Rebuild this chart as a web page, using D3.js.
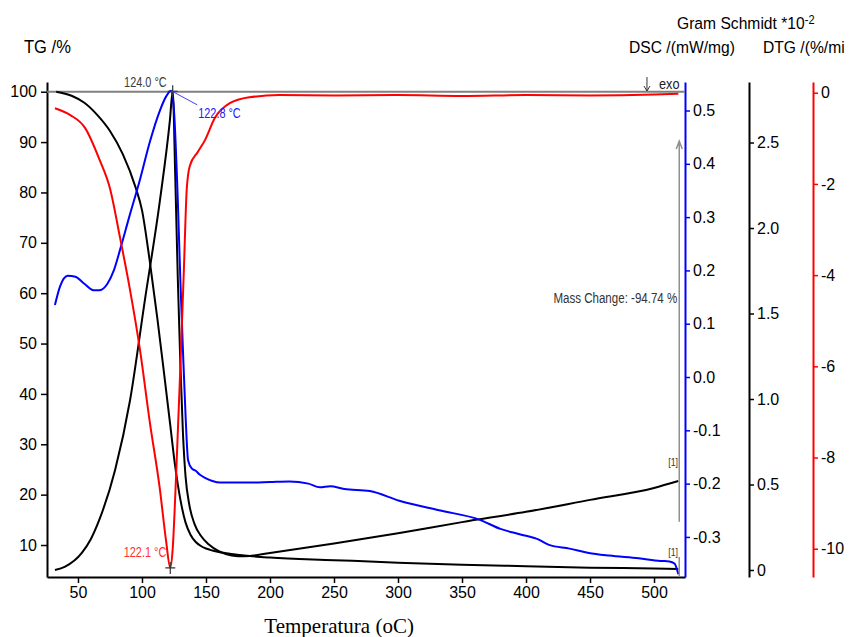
<!DOCTYPE html>
<html><head><meta charset="utf-8">
<script src="https://cdn.jsdelivr.net/npm/d3@7"></script>
<style>
body{margin:0;background:#fff}
svg{display:block}
text{font-family:"Liberation Sans",Arial,sans-serif}
</style>
</head><body>
<svg id="c" width="852" height="637"></svg>
<script>
// ---------------- data ----------------
const tgTemp = [33,45,55,65,75,85,95,100,106,112,118,122,126,130,134,138,142,146,150,155,160,170,180,200,250,300,350,400,450,500,519];
const tgVal  = [100,99.2,97.8,95.4,92.2,87.6,81,76.5,66.5,55,42.5,34,25.5,19,14.5,12,10.6,9.8,9.3,8.9,8.6,8.2,7.9,7.5,7.0,6.5,6.1,5.8,5.5,5.35,5.26];

const dtgTemp = [32,44,55.5,67,75,83,90.5,98.5,106,114,118.7,122.1,124,126.5,129.6,132.7,135,137.4,143.6,149,157,168.6,184,207,250,300,350,400,450,500,519];
const dtgVal  = [-0.34,-0.49,-0.77,-1.48,-2.1,-3.2,-4.3,-5.65,-7.2,-8.7,-9.8,-10.42,-10.0,-8.5,-6.3,-3.9,-2.1,-1.6,-1.3,-1.05,-0.55,-0.23,-0.1,-0.05,-0.06,-0.05,-0.07,-0.05,-0.06,-0.04,-0.02];

const dscTemp = [32,36,42,48,55,62,67,73,78,83,90,98.4,106,114,119,122.8,125,128,130,132,134,136,139,142,145,150,155,161,170,185,200,215,230,239,247,258,278,301,332,364,380,395,410,418,434,449,465,488,505,512,516,519];
const dscVal  = [0.135,0.17,0.19,0.188,0.175,0.163,0.163,0.175,0.2,0.24,0.3,0.37,0.44,0.5,0.527,0.537,0.50,0.33,0.18,0.05,-0.07,-0.156,-0.172,-0.176,-0.183,-0.19,-0.195,-0.198,-0.198,-0.198,-0.197,-0.196,-0.2,-0.207,-0.205,-0.21,-0.214,-0.232,-0.25,-0.268,-0.285,-0.295,-0.305,-0.315,-0.322,-0.33,-0.335,-0.34,-0.345,-0.346,-0.35,-0.37];

const gsTemp = [32,40,53,60,67,79,90.6,102.3,114,121.8,124,126,128,130,132,134,137,141,146,152,160,170,180,200,250,300,350,400,450,500,519];
const gsVal  = [0,0.02,0.1,0.18,0.3,0.585,0.99,1.58,2.16,2.63,2.80,2.3,1.7,1.2,0.8,0.55,0.38,0.27,0.2,0.15,0.11,0.085,0.08,0.1,0.155,0.215,0.28,0.34,0.41,0.48,0.52];

const tempTicks = [50,100,150,200,250,300,350,400,450,500];
const tgTicks   = [10,20,30,40,50,60,70,80,90,100];
const dscTicks  = [-0.3,-0.2,-0.1,0.0,0.1,0.2,0.3,0.4,0.5];
const gsTicks   = [0,0.5,1.0,1.5,2.0,2.5];
const dtgTicks  = [-10,-8,-6,-4,-2,0];

// ---------------- layout ----------------
const L = 47, R = 685, T = 82, B = 577;
const xGS = 749, xDTG = 813;
const svg = d3.select('#c');

const x    = d3.scaleLinear().domain([25.8,524.2]).range([L,R]);
const yTG  = d3.scaleLinear().domain([3.65,101.93]).range([B,T]);
const yDSC = d3.scaleLinear().domain([-0.3752,0.5535]).range([B,T]);
const yGS  = d3.scaleLinear().domain([-0.041,2.854]).range([B,T]);
const yDTG = d3.scaleLinear().domain([-10.62,0.235]).range([B,T]);

function styleAxis(g, color){
  g.selectAll('path.domain').attr('stroke', color).attr('stroke-width', 2);
  g.selectAll('.tick line').attr('stroke', color).attr('stroke-width', 1.5);
  g.selectAll('.tick text').attr('fill', '#000').style('font-size','16px')
   .style('font-family','"Liberation Sans",Arial,sans-serif');
}
function minor(axisFn, scale, vals, size){
  return axisFn(scale).tickValues(vals).tickSize(size).tickFormat('').tickSizeOuter(0);
}
const range = (a,b,s)=>d3.range(Math.round((b-a)/s)+1).map(i=>+(a+i*s).toFixed(4));

// left TG axis
const gL = svg.append('g').attr('transform',`translate(${L},0)`);
gL.call(minor(d3.axisLeft, yTG, range(6,100,2), 3));
gL.call(d3.axisLeft(yTG).tickValues(tgTicks).tickSize(6).tickPadding(4).tickSizeOuter(0).tickFormat(d=>String(d)));
styleAxis(gL,'#000');

// bottom axis
const gB = svg.append('g').attr('transform',`translate(0,${B})`);
gB.call(minor(d3.axisBottom, x, range(75,475,50), 3));
gB.call(d3.axisBottom(x).tickValues(tempTicks).tickSize(6).tickPadding(4).tickSizeOuter(0));
styleAxis(gB,'#000');

// DSC axis (blue)
const gD = svg.append('g').attr('transform',`translate(${R},0)`);
gD.call(minor(d3.axisRight, yDSC, range(-0.35,0.55,0.025), 3));
gD.call(d3.axisRight(yDSC).tickValues(dscTicks).tickSize(5).tickPadding(3).tickSizeOuter(0).tickFormat(d=>d.toFixed(1)));
styleAxis(gD,'#0000ff');

// Gram Schmidt axis (black)
const gG = svg.append('g').attr('transform',`translate(${xGS},0)`);
gG.call(minor(d3.axisRight, yGS, range(0,2.8,0.1), 3));
gG.call(d3.axisRight(yGS).tickValues(gsTicks).tickSize(5).tickPadding(3).tickSizeOuter(0).tickFormat(d=>d===0?'0':d.toFixed(1)));
styleAxis(gG,'#000');

// DTG axis (red)
const gR = svg.append('g').attr('transform',`translate(${xDTG},0)`);
gR.call(minor(d3.axisRight, yDTG, range(-10,0,1), 3));
gR.call(d3.axisRight(yDTG).tickValues(dtgTicks).tickSize(5).tickPadding(3).tickSizeOuter(0).tickFormat(d=>String(d)));
styleAxis(gR,'#ff0000');

// reference line at TG = 100
svg.append('line').attr('x1',L).attr('x2',R).attr('y1',yTG(100)).attr('y2',yTG(100))
  .attr('stroke','#808080').attr('stroke-width',2);

// ---------------- curves ----------------
const zip = (a,b)=>a.map((v,i)=>[v,b[i]]);
function curve(data, ys, color){
  svg.append('path').datum(data)
    .attr('d', d3.line().x(d=>x(d[0])).y(d=>ys(d[1])).curve(d3.curveMonotoneX))
    .attr('fill','none').attr('stroke',color).attr('stroke-width',2);
}
curve(zip(tgTemp,tgVal), yTG, '#000');
curve(zip(gsTemp,gsVal), yGS, '#000');
curve(zip(dscTemp,dscVal), yDSC, '#0000ff');
curve(zip(dtgTemp,dtgVal), yDTG, '#ff0000');

// ---------------- annotations ----------------
function ctext(px, py, str, size, color, sx, anchor){
  return svg.append('text')
    .attr('transform',`translate(${px},${py}) scale(${sx},1)`)
    .attr('text-anchor', anchor||'start')
    .style('font-size', size+'px').attr('fill', color).text(str);
}
function cross(cx, cy, color){
  svg.append('path').attr('d',`M${cx-5},${cy}H${cx+5}M${cx},${cy-6}V${cy+6}`)
    .attr('stroke',color).attr('stroke-width',1.2).attr('fill','none');
}
// Gram Schmidt peak
const pkX = x(124.0), pkY = yGS(2.80);
cross(pkX, pkY, '#333');
ctext(pkX-6, pkY-4, '124.0 °C', 14, '#3a3a3a', 0.78, 'end');
// DSC peak
const dX = x(122.8), dY = yDSC(0.537);
svg.append('line').attr('x1',dX).attr('y1',dY).attr('x2',dX+26).attr('y2',dY+14)
  .attr('stroke','#4040ff').attr('stroke-width',1);
ctext(dX+27, dY+27, '122.8 °C', 14, '#2020ff', 0.78, 'start');
// DTG minimum
const rX = x(122.1), rY = yDTG(-10.42);
cross(rX, rY, '#333');
ctext(rX-4, rY-11, '122.1 °C', 14, '#ff3030', 0.78, 'end');

// exo arrow
const eX = x(494.5), eY = 77;
svg.append('path').attr('d',`M${eX},${eY}V${eY+14}M${eX-3},${eY+9}L${eX},${eY+14}L${eX+3},${eY+9}`)
  .attr('stroke','#333').attr('stroke-width',1).attr('fill','none');
ctext(eX+12, eY+12, 'exo', 15, '#222', 0.85, 'start');

// Mass change arrow
const mX = x(519.7);
svg.append('path').attr('d',`M${mX},${yTG(14.6)}V${yTG(90.2)}M${mX-3},${yTG(90.2)+8}L${mX},${yTG(90.2)}L${mX+3},${yTG(90.2)+8}`)
  .attr('stroke','#909090').attr('stroke-width',1.5).attr('fill','none');
ctext(mX-2, 303, 'Mass Change: -94.74 %', 15, '#333', 0.77, 'end');
svg.append('line').attr('x1',mX).attr('x2',mX).attr('y1',yTG(5.26)-12).attr('y2',yTG(5.26)+8)
  .attr('stroke','#909090').attr('stroke-width',1.5);
ctext(mX-11, yGS(0.52)-15, '[1]', 11, '#333', 0.8, 'start');
ctext(mX-11, yTG(5.26)-13, '[1]', 11, '#333', 0.8, 'start');

// ---------------- titles ----------------
ctext(24, 53, 'TG /%', 18, '#000', 0.92, 'start');
const gsT = svg.append('text').attr('transform','translate(677,29) scale(0.92,1)').style('font-size','17px').attr('fill','#000');
gsT.append('tspan').text('Gram Schmidt *10');
gsT.append('tspan').attr('dy',-5).style('font-size','12px').text('-2');
ctext(629, 53, 'DSC /(mW/mg)', 17, '#000', 0.92, 'start');
ctext(763, 53, 'DTG /(%/mi', 17, '#000', 0.92, 'start');
svg.append('text').attr('x', x(254)).attr('y', 633).attr('text-anchor','middle')
  .style('font-family','"Liberation Serif","Times New Roman",serif').style('font-size','21px')
  .attr('fill','#000').text('Temperatura (oC)');
</script>
</body></html>
